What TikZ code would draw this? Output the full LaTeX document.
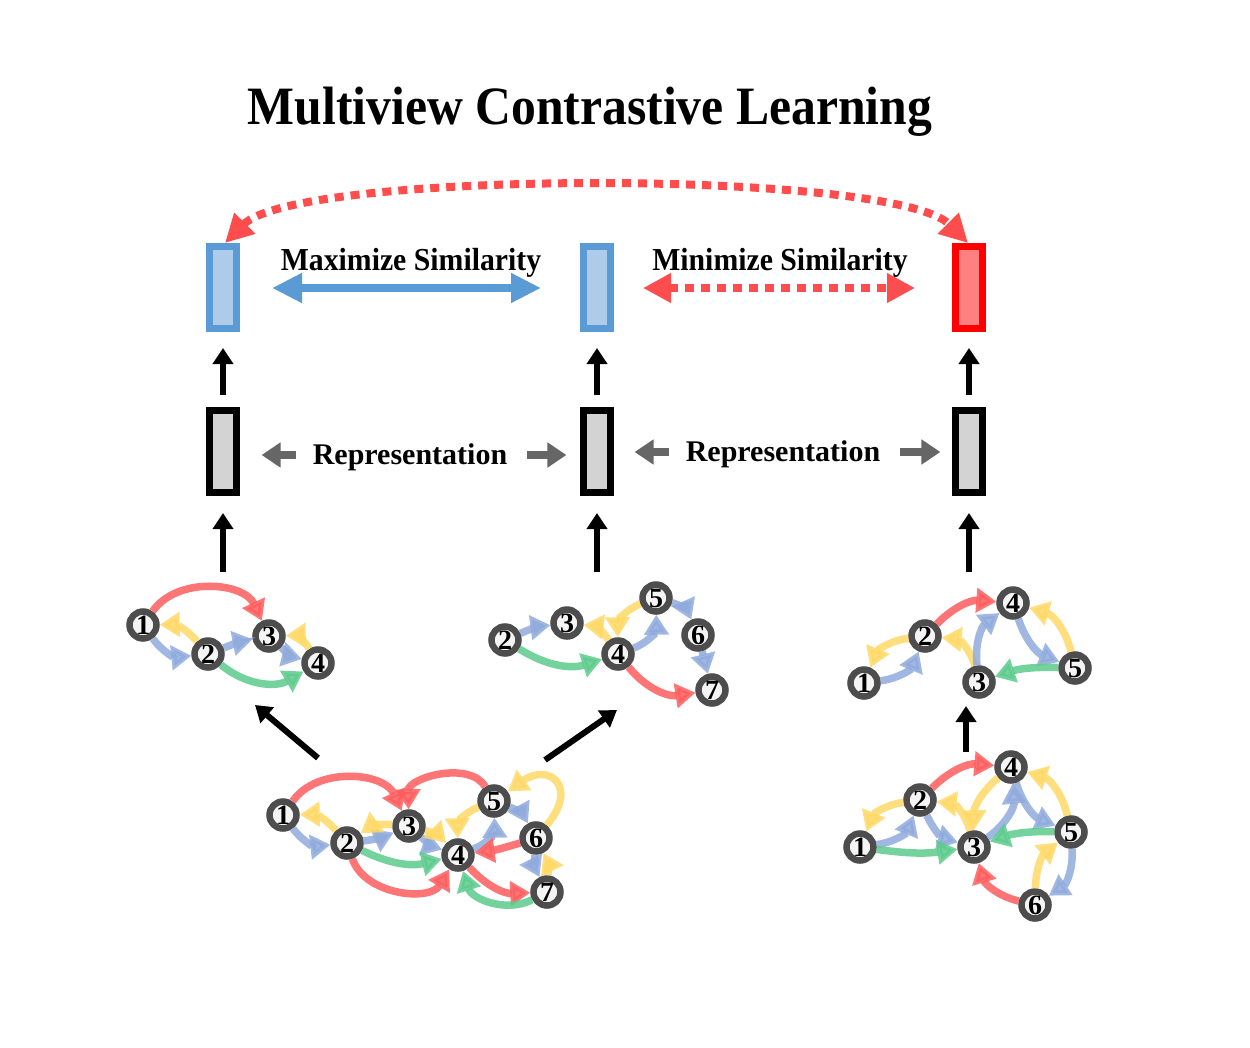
\documentclass[tikz,border=0pt]{standalone}
\usepackage{fontspec}
\setmainfont{Liberation Serif}
\usetikzlibrary{arrows.meta}
\definecolor{bborder}{HTML}{5B9BD5}
\definecolor{bfill}{HTML}{AECBE9}
\definecolor{rborder}{HTML}{FF0000}
\definecolor{rfill}{HTML}{FF8080}
\definecolor{gfill}{HTML}{D3D3D3}
\definecolor{ngray}{HTML}{4D4D4D}
\definecolor{nfill}{HTML}{F4F4F4}
\definecolor{ered}{HTML}{FF5C5C}
\definecolor{eyel}{HTML}{FFD966}
\definecolor{eblu}{HTML}{8FAADC}
\definecolor{egrn}{HTML}{5CCB8C}
\definecolor{dred}{HTML}{FF4D4D}
\definecolor{agray}{HTML}{666666}
\begin{document}
\begin{tikzpicture}[x=1pt,y=1pt,
  gn/.style={circle, draw=ngray, line width=6.5pt, fill=nfill, minimum size=27pt, inner sep=0pt,
     font=\fontsize{28}{28}\selectfont\bfseries},
  ed/.style={line width=7.5pt, opacity=0.85, -{Triangle[length=20pt,width=24pt]}},
  cr/.style={draw=ered}, cy/.style={draw=eyel}, cb/.style={draw=eblu}, cg/.style={draw=egrn},
  boxbase/.style={rectangle, minimum width=27pt, minimum height=82pt, line width=7pt, inner sep=0pt},
  bluebox/.style={boxbase, draw=bborder, fill=bfill},
  redbox/.style={boxbase, draw=rborder, fill=rfill},
  graybox/.style={boxbase, draw=black, fill=gfill},
  barr/.style={line width=6pt, draw=black, -{Triangle[length=16pt,width=20pt]}},
  garr/.style={line width=8pt, draw=agray, -{Triangle[length=19pt,width=24pt]}},
  lbl/.style={font=\fontsize{32}{32}\selectfont\bfseries, inner sep=0pt},
  rlbl/.style={font=\fontsize{30}{30}\selectfont\bfseries, inner sep=0pt}
]
\useasboundingbox (0,0) rectangle (1250,-1047);

% title
\node[inner sep=0pt] (title) at (590,-112) {\scalebox{0.92}[1]{\fontsize{54}{54}\selectfont\bfseries Multiview Contrastive Learning}};

% boxes
\node[bluebox] (ba) at (223,-287.5) {};
\node[bluebox] (bb) at (597,-287.5) {};
\node[redbox]  (bc) at (969,-287.5) {};
\node[graybox] (ga) at (223,-451.5) {};
\node[graybox] (gb) at (597,-451.5) {};
\node[graybox] (gc) at (969,-451.5) {};

% labels
\node[lbl] (maxl) at (411,-263) {\scalebox{0.93}[1]{Maximize Similarity}};
\node[lbl] (minl) at (780,-263) {\scalebox{0.93}[1]{Minimize Similarity}};
\node[rlbl] (rep1) at (410,-457) {Representation};
\node[rlbl] (rep2) at (783,-454) {Representation};

% similarity arrows
\coordinate (m1) at (272,-288);
\coordinate (m2) at (541,-288);
\coordinate (n1) at (643,-288);
\coordinate (n2) at (915,-288);
\draw[line width=8pt, draw=bborder, {Triangle[length=30pt,width=28pt]}-{Triangle[length=30pt,width=28pt]}] (m1) -- (m2);
\draw[line width=8pt, draw=dred, dash pattern=on 9pt off 7pt, {Triangle[length=28pt,width=28pt]}-{Triangle[length=28pt,width=28pt]}] (n1) -- (n2);
\draw[line width=8pt, draw=dred, dash pattern=on 9pt off 7pt, {Triangle[length=28pt,width=28pt]}-{Triangle[length=28pt,width=28pt]}] ([xshift=2pt]ba.north) to[out=45,in=135,looseness=0.36] ([xshift=-1pt]bc.north);

% representation arrows
\draw[garr] (rep1.west) ++(-17,2) coordinate (r1a) -- ++(-34,0) coordinate (r1b);
\draw[garr] (rep1.east) ++(20,2) coordinate (r1c) -- ++(39,0) coordinate (r1d);
\draw[garr] (rep2.west) ++(-17,2) coordinate (r2a) -- ++(-34,0) coordinate (r2b);
\draw[garr] (rep2.east) ++(20,2) coordinate (r2c) -- ++(40,0) coordinate (r2d);

% vertical black arrows
\draw[barr, shorten <=12pt, shorten >=16pt] (ga) -- (ba);
\draw[barr, shorten <=12pt, shorten >=16pt] (gb) -- (bb);
\draw[barr, shorten <=12pt, shorten >=16pt] (gc) -- (bc);
\coordinate (ta) at (223,-572);
\coordinate (tb) at (597,-572);
\coordinate (tc) at (969,-572);
\draw[barr, shorten >=17pt] (ta) -- (ga);
\draw[barr, shorten >=17pt] (tb) -- (gb);
\draw[barr, shorten >=17pt] (tc) -- (gc);

% ---------- graph A (top-left)
\node[gn] (a1) at (143,-625) {1};
\node[gn] (a2) at (208,-654) {2};
\node[gn] (a3) at (269,-636) {3};
\node[gn] (a4) at (318,-663) {4};
\draw[ed,cr] (a1) to[bend left=60] (a3);
\draw[ed,cy] (a2) to[bend right=25] (a1);
\draw[ed,cb] (a1) to[bend right=30] (a2);
\draw[ed,cb] (a2) to[bend left=5] (a3);
\draw[ed,cy] (a4) to[bend right=30] (a3);
\draw[ed,cb] (a3) to[bend right=15] (a4);
\draw[ed,cg] (a2) to[bend right=35] (a4);

% ---------- graph B (top-middle)
\node[gn] (b2) at (505,-640) {2};
\node[gn] (b3) at (567,-623) {3};
\node[gn] (b4) at (618,-654) {4};
\node[gn] (b5) at (656,-598) {5};
\node[gn] (b6) at (698,-635) {6};
\node[gn] (b7) at (712,-690) {7};
\draw[ed,cb] (b2) to[bend left=8] (b3);
\draw[ed,cy] (b4) to[bend right=25] (b3);
\draw[ed,cg] (b2) to[bend right=25] (b4);
\draw[ed,cy] (b5) to[bend right=35] (b4);
\draw[ed,cb] (b4) to[bend right=35] (b5);
\draw[ed,cb] (b5) to[bend left=25] (b6);
\draw[ed,cb] (b6) to (b7);
\draw[ed,cr] (b4) to[bend right=30] (b7);

% ---------- graph C (top-right)
\node[gn] (c1) at (864,-683) {1};
\node[gn] (c2) at (925,-636) {2};
\node[gn] (c3) at (979,-682) {3};
\node[gn] (c4) at (1013,-603) {4};
\node[gn] (c5) at (1075,-668) {5};
\draw[ed,cb] (c1) to[bend right=30] (c2);
\draw[ed,cy] (c2) to[bend right=30] (c1);
\draw[ed,cr] (c2) to[bend left=25] (c4);
\draw[ed,cy] (c3) to[bend right=35] (c2);
\draw[ed,cb] (c3) to[bend left=30] (c4);
\draw[ed,cb] (c4) to[bend right=25] (c5);
\draw[ed,cy] (c5) to[bend right=30] (c4);
\draw[ed,cg] (c5) to[bend right=10] (c3);

% arrow between right graphs
\coordinate (tcc) at (966,-752);
\coordinate (tct) at (966,-706);
\draw[barr] (tcc) -- (tct);

% ---------- graph D (bottom-center)
\node[gn] (d1) at (283,-815) {1};
\node[gn] (d2) at (347,-843) {2};
\node[gn] (d3) at (409,-826) {3};
\node[gn] (d4) at (458,-855) {4};
\node[gn] (d5) at (494,-801) {5};
\node[gn] (d6) at (536,-838) {6};
\node[gn] (d7) at (547,-892) {7};
\draw[ed,cr] (d1) to[bend left=60] (d3);
\draw[ed,cy] (d2) to[bend right=25] (d1);
\draw[ed,cb] (d1) to[bend right=30] (d2);
\draw[ed,cb] (d2) to[bend right=8] (d3);
\draw[ed,cy] (d3) to[bend right=20] (d2);
\draw[ed,cr] (d5) to[bend right=75] (d3);
\draw[ed,cb] (d3) to[bend right=12] (d4);
\draw[ed,cy] (d3) to[bend left=15] (d4);
\draw[ed,cy] (d5) to[bend right=35] (d4);
\draw[ed,cb] (d4) to[bend right=35] (d5);
\draw[ed,cb] (d5) to[bend left=20] (d6);
\draw[ed,cy] (d6) to[out=50,in=35,looseness=2.5] (d5);
\draw[ed,cr] (d6) to[bend left=5] (d4);
\draw[ed,cb] (d6) to[bend right=15] (d7);
\draw[ed,cy] (d7) to[bend right=15] (d6);
\draw[ed,cr] (d4) to[bend right=25] (d7);
\draw[ed,cg] (d7) to[bend left=50] (d4);
\draw[ed,cg] (d2) to[bend right=20] (d4);
\draw[ed,cr] (d2) to[bend right=65] (d4);

% diagonal arrows
\coordinate (dl) at (318,-758);
\coordinate (dlt) at (255,-705);
\coordinate (dr) at (545,-760);
\coordinate (drt) at (617,-710);
\draw[barr] (dl) -- (dlt);
\draw[barr] (dr) -- (drt);

% ---------- graph E (bottom-right)
\node[gn] (e1) at (860,-847) {1};
\node[gn] (e2) at (920,-800) {2};
\node[gn] (e3) at (974,-847) {3};
\node[gn] (e4) at (1011,-767) {4};
\node[gn] (e5) at (1071,-832) {5};
\node[gn] (e6) at (1035,-905) {6};
\draw[ed,cb] (e1) to[bend right=30] (e2);
\draw[ed,cy] (e2) to[bend right=30] (e1);
\draw[ed,cr] (e2) to[bend left=25] (e4);
\draw[ed,cy] (e3) to[bend right=35] (e2);
\draw[ed,cb] (e2) to[bend right=25] (e3);
\draw[ed,cy] (e4) to[bend right=25] (e3);
\draw[ed,cb] (e3) to[bend right=30] (e4);
\draw[ed,cb] (e4) to[bend right=25] (e5);
\draw[ed,cy] (e5) to[bend right=30] (e4);
\draw[ed,cg] (e5) to[bend right=10] (e3);
\draw[ed,cg] (e1) to[bend right=8] (e3);
\draw[ed,cr] (e6) to[bend left=30] (e3);
\draw[ed,cy] (e6) to[bend left=25] (e5);
\draw[ed,cb] (e5) to[bend left=30] (e6);
\end{tikzpicture}
\end{document}
